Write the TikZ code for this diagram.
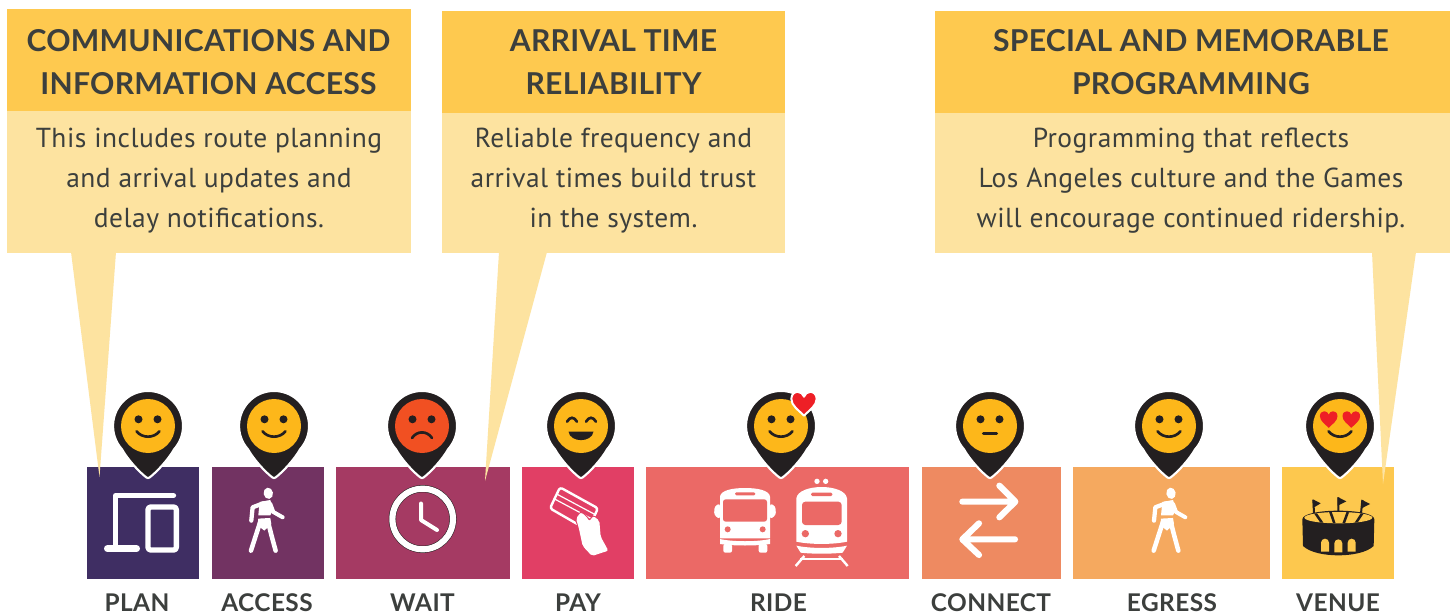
\documentclass[tikz,border=0pt]{standalone}
\usepackage{fontspec}
\setmainfont{Lato}
\newfontfamily\headfont[LetterSpace=0.9]{Lato Bold}
\newfontfamily\labelfont[LetterSpace=1.8]{Lato Bold}
\newfontfamily\bodyfont[LetterSpace=1.8]{PT Sans}
\definecolor{ink}{HTML}{3C3F3D}
\definecolor{pinblack}{HTML}{231F20}
\definecolor{headyellow}{HTML}{FEC94F}
\definecolor{bodyyellow}{HTML}{FDE3A0}
\definecolor{faceyellow}{HTML}{FDB71A}
\definecolor{facered}{HTML}{F15022}
\definecolor{heartred}{HTML}{EE1F26}
\definecolor{cplan}{HTML}{3F2E63}
\definecolor{caccess}{HTML}{723362}
\definecolor{cwait}{HTML}{A53A63}
\definecolor{cpay}{HTML}{E13F65}
\definecolor{cride}{HTML}{EB6966}
\definecolor{cconnect}{HTML}{EE8A61}
\definecolor{cegress}{HTML}{F5A95F}
\definecolor{cvenue}{HTML}{FDC84E}
\tikzset{
  headtext/.style={inner sep=0pt,align=center,text=ink,font=\headfont\fontsize{22.6}{32.3}\selectfont},
  bodytext/.style={inner sep=0pt,align=center,text=ink,font=\bodyfont\fontsize{20.6}{30}\selectfont},
  steplabel/.style={inner sep=0pt,anchor=base,text=ink,font=\labelfont\fontsize{18.3}{20}\selectfont},
  smile/.style={draw=pinblack,line width=2pt,line cap=round},
  iconline/.style={draw=white,line cap=round,line join=round},
}
\newcommand\heartpath{(0,1) .. controls (-.45,.55) and (-1,.2) .. (-1,-.32) .. controls (-1,-.72) and (-.72,-.88) .. (-.5,-.88) .. controls (-.25,-.88) and (-.08,-.72) .. (0,-.5) .. controls (.08,-.72) and (.25,-.88) .. (.5,-.88) .. controls (.72,-.88) and (1,-.72) .. (1,-.32) .. controls (1,.2) and (.45,.55) .. (0,1) -- cycle}
% pin at x, with face colour
\newcommand\pinat[2]{%
  \filldraw[fill=pinblack,draw=white,line width=1.6pt,line join=round,shift={(#1,426)}]
    (-26,23.3) arc[start angle=138.1,end angle=401.9,radius=35] .. controls (21,32.5) and (9,46) .. (1.5,51.5) -- (0,52) -- (-1.5,51.5) .. controls (-9,46) and (-21,32.5) .. cycle;
  \fill[#2] (#1,426) circle[radius=27];}
\newcommand\eyes{\fill[pinblack] (-9.5,-6.7) circle[radius=4] (9.5,-6.7) circle[radius=4];}
\newcommand\smilemouth{\draw[smile] (-11.5,5.2) .. controls (-6,12.5) and (6,12.5) .. (11.5,5.2);}
\newcommand\walkerfig{%
  \fill[white,rotate=10] (0,0) ellipse[x radius=14,y radius=17];
  \fill[white] (-26,26) -- (6,20) -- (15,48) -- (6,66) -- (-30,66) -- cycle;
  \draw[iconline,line width=3.2pt] (-15,30) -- (-47,42) -- (-51,82);
  \draw[iconline,line width=3pt] (6,32) -- (15,56) -- (43,72);
  \fill[white] (-30,76) -- (6,74) -- (9,92) -- (-12,112) -- (-32,96) -- cycle;
  \draw[iconline,line width=3.4pt] (-24,85) -- (-52,172);
  \draw[iconline,line width=3.4pt] (-1,85) -- (10,128) -- (22,172);
}
\begin{document}
\begin{tikzpicture}[x=.75pt,y=-.75pt]
\useasboundingbox (0,0) rectangle (1450,613);
\fill[white] (0,0) rectangle (1450,613);
% step boxes
\fill[cplan] (87,467) rectangle (199,579);
\fill[caccess] (212,467) rectangle (324,579);
\fill[cwait] (336,467) rectangle (510,579);
\fill[cpay] (522,467) rectangle (634,579);
\fill[cride] (646,467) rectangle (909,579);
\fill[cconnect] (922,467) rectangle (1061,579);
\fill[cegress] (1073,467) rectangle (1270,579);
\fill[cvenue] (1282,467) rectangle (1394,579);
% callouts
\fill[bodyyellow] (71,252) -- (116,252) -- (99.5,477) -- cycle;
\fill[bodyyellow] (499,252) -- (547,252) -- (485,481) -- cycle;
\fill[bodyyellow] (1372,252) -- (1416,252) -- (1383,484) -- cycle;
\fill[bodyyellow] (7,111) rectangle (411,253);
\fill[headyellow] (7,9) rectangle (411,111);
\fill[bodyyellow] (442,113) rectangle (785,253);
\fill[headyellow] (442,11) rectangle (785,113);
\fill[bodyyellow] (935,113) rectangle (1450,253);
\fill[headyellow] (935,11) rectangle (1450,113);
\node[headtext] (h1) at (208.5,62) {COMMUNICATIONS AND\\INFORMATION ACCESS};
\node[bodytext] (b1) at (209,180.5) {This includes route planning\\and arrival updates and\\delay notifications.};
\node[headtext] (h2) at (613.5,62) {ARRIVAL TIME\\RELIABILITY};
\node[bodytext] (b2) at (613.5,180.5) {Reliable frequency and\\arrival times build trust\\in the system.};
\node[headtext] (h3) at (1191,62) {SPECIAL AND MEMORABLE\\PROGRAMMING};
\node[bodytext] (b3) at (1191,180.5) {Programming that reflects\\Los Angeles culture and the Games\\will encourage continued ridership.};
% labels
\node[steplabel] (lplan) at (137,611) {PLAN};
\node[steplabel] (laccess) at (267,611) {ACCESS};
\node[steplabel] (lwait) at (422.5,611) {WAIT};
\node[steplabel] (lpay) at (578,611) {PAY};
\node[steplabel] (lride) at (778.5,611) {RIDE};
\node[steplabel] (lconnect) at (991,611) {CONNECT};
\node[steplabel] (legress) at (1172,611) {EGRESS};
\node[steplabel] (lvenue) at (1338,611) {VENUE};
% plan icon
\begin{scope}[shift={(80,380)},x=.25pt,y=-.25pt]
  \draw[iconline,line width=4.2pt] (280,347) -- (107,347) -- (107,505);
  \draw[iconline,line width=5pt] (82,506) -- (170,506);
  \draw[iconline,line width=4pt,rounded corners=2pt] (204,381) rectangle (289,510);
\end{scope}
% walkers
\begin{scope}[shift={(268.3,493.3)},x=.25pt,y=-.25pt]\walkerfig\end{scope}
\begin{scope}[shift={(1171,493.3)},x=.25pt,y=-.25pt]\walkerfig\end{scope}
% clock
\draw[pinblack,line width=5.4pt] (422.7,519) circle[radius=30.3];
\draw[white,line width=4.6pt] (422.7,519) circle[radius=30.3];
\draw[iconline,line width=3pt] (421,503.5) -- (421,520) -- (437,530);
% card and hand
\begin{scope}[shift={(530,480)},x=.25pt,y=-.25pt]
  \draw[iconline,line width=1.8pt,rounded corners=2pt] (90,22) -- (204,85) -- (173,150) -- (60,85) -- cycle;
  \draw[white,line width=.9pt] (80,42) -- (196,104) (72,56) -- (188,118);
  \draw[cpay,line width=1.6pt,rounded corners=1.5pt] (138,116) -- (152,97) -- (168,108) -- (178,124) -- (190,108) -- (208,122) -- (212,170) -- (235,212) -- (186,228) -- (158,198) -- (146,142) -- cycle;
  \fill[white,rounded corners=1.5pt] (138,116) -- (152,97) -- (168,108) -- (178,124) -- (190,108) -- (208,122) -- (212,170) -- (235,212) -- (186,228) -- (158,198) -- (146,142) -- cycle;
\end{scope}
% bus and train
\begin{scope}[shift={(700,470)},x=.25pt,y=-.25pt]
  \fill[white] (60,205) -- (60,80) .. controls (62,60) and (100,54) .. (135,54) .. controls (170,54) and (208,60) .. (210,80) -- (210,205) -- cycle;
  \fill[white,rounded corners=2pt] (60,100) -- (44,108) -- (42,135) -- (60,148) -- cycle (210,100) -- (226,108) -- (228,135) -- (210,148) -- cycle;
  \fill[cride,rounded corners=2pt] (69,88) rectangle (201,155);
  \fill[cride,rounded corners=1pt] (105,67) rectangle (166,76);
  \fill[cride] (83,178) circle[radius=9] (188,178) circle[radius=9];
  \fill[white] (60,207) .. controls (100,216) and (170,216) .. (210,207) -- (210,222) .. controls (170,228) and (100,228) .. (60,222) -- cycle;
  \fill[white,rounded corners=1.5pt] (70,222) rectangle (96,248) (176,222) rectangle (202,248);
  \fill[white] (351,34) circle[radius=8] (377,34) circle[radius=8];
  \fill[white] (289,215) -- (289,85) .. controls (292,62) and (330,51) .. (365,51) .. controls (400,51) and (438,62) .. (441,85) -- (441,215) .. controls (400,224) and (330,224) .. (289,215) -- cycle;
  \fill[cride,rounded corners=2.5pt] (306,95) rectangle (425,165);
  \fill[cride,rounded corners=1pt] (333,68) rectangle (397,78);
  \fill[cride] (316,191) circle[radius=11] (414,191) circle[radius=11];
  \fill[white] (289,227) .. controls (330,236) and (400,236) .. (441,227) -- (428,248) .. controls (400,252) and (330,252) .. (302,248) -- cycle;
  \draw[white,line width=1.8pt] (313,258) -- (287,288) (417,258) -- (443,288);
  \draw[white,line width=1.6pt] (300,268) -- (430,268);
\end{scope}
% arrows
\begin{scope}[shift={(910,380)},x=.25pt,y=-.25pt]
  \draw[iconline,line width=4.6pt] (157,365) -- (315,365) (268,317) -- (316,365) -- (268,412);
  \draw[iconline,line width=4.6pt] (315,478) -- (157,478) (207,430) -- (157,478) -- (207,525);
\end{scope}
% stadium
\begin{scope}[shift={(1285,480)},x=.25pt,y=-.25pt]
  \draw[pinblack,line width=1.5pt] (85,60) -- (87,100) (160,52) -- (160,96) (232,60) -- (228,100);
  \fill[pinblack] (83,58) -- (107,70) -- (84,84) -- cycle (158,51) -- (184,64) -- (158,77) -- cycle (230,59) -- (255,72) -- (230,85) -- cycle;
  \fill[pinblack] (52,118) .. controls (52,100) and (110,92) .. (160,92) .. controls (210,92) and (268,100) .. (268,118) -- (266,198) .. controls (245,218) and (200,226) .. (160,226) .. controls (120,226) and (75,218) .. (54,198) -- cycle;
  \begin{scope}
    \clip (160,113) ellipse[x radius=102,y radius=17];
    \fill[cvenue] (50,90) rectangle (270,140);
    \draw[pinblack,line width=1.9pt] (88,95) -- (112,130) (135,92) -- (148,130) (190,92) -- (176,130) (235,95) -- (212,130);
  \end{scope}
  \fill[cvenue] (108,215) -- (108,188) arc[start angle=180,end angle=360,radius=12] -- (132,215) -- cycle;
  \fill[cvenue] (148,217) -- (148,190) arc[start angle=180,end angle=360,radius=12] -- (172,217) -- cycle;
  \fill[cvenue] (188,215) -- (188,188) arc[start angle=180,end angle=360,radius=12] -- (212,215) -- cycle;
\end{scope}
% pins and faces
\pinat{148}{faceyellow}
\begin{scope}[shift={(148,426)}]\eyes\smilemouth\end{scope}
\pinat{274}{faceyellow}
\begin{scope}[shift={(274,426)}]\eyes\smilemouth\end{scope}
\pinat{422}{facered}
\begin{scope}[shift={(422,426)}]\eyes\draw[smile] (-10,12) .. controls (-5,4.5) and (5,4.5) .. (10,12);\end{scope}
\pinat{581}{faceyellow}
\begin{scope}[shift={(581,426)}]
  \draw[smile] (-14,-4.3) .. controls (-11,-9.5) and (-7,-9.5) .. (-4,-4.3) (5,-4.3) .. controls (8,-9.5) and (12,-9.5) .. (15,-4.3);
  \fill[pinblack] (-12.5,5.5) -- (12.5,5.5) .. controls (11,17) and (-11,17) .. (-12.5,5.5) -- cycle;
\end{scope}
\pinat{781}{faceyellow}
\begin{scope}[shift={(781,426)}]\eyes\smilemouth\end{scope}
\begin{scope}[shift={(804,403)},x=9.5pt,y=-9.5pt]
  \filldraw[fill=heartred,draw=white,line width=1.5pt,line join=round] \heartpath;
\end{scope}
\pinat{990}{faceyellow}
\begin{scope}[shift={(990,426)}]\eyes\draw[pinblack,line width=2.4pt,line cap=round] (-6.5,7.3) -- (6.5,7.3);\end{scope}
\pinat{1169}{faceyellow}
\begin{scope}[shift={(1169,426)}]\eyes\smilemouth\end{scope}
\pinat{1340}{faceyellow}
\begin{scope}[shift={(1340,426)}]\smilemouth\end{scope}
\begin{scope}[shift={(1328.7,419)},x=6.6pt,y=-6.6pt]\fill[heartred] \heartpath;\end{scope}
\begin{scope}[shift={(1351.3,419)},x=6.6pt,y=-6.6pt]\fill[heartred] \heartpath;\end{scope}
\end{tikzpicture}
\end{document}
